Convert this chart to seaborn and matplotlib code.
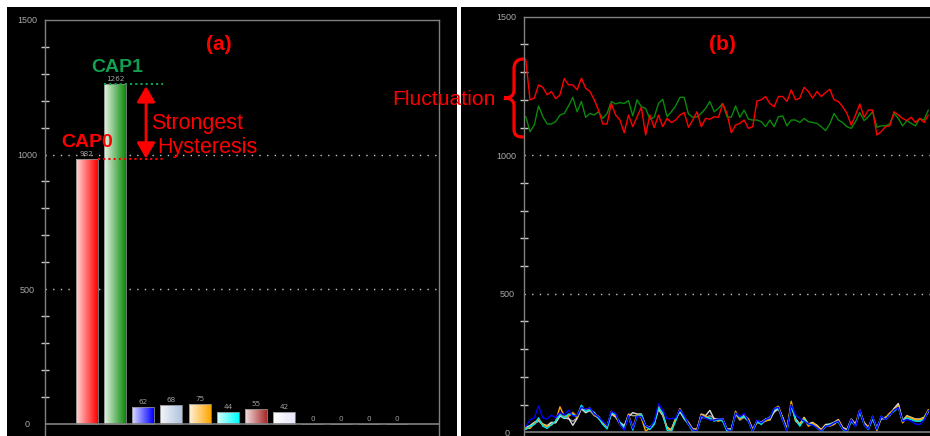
import numpy as np
import pandas as pd
import seaborn as sns
import matplotlib.pyplot as plt
from matplotlib.patches import Rectangle, PathPatch
from matplotlib.path import Path
from matplotlib.ticker import MultipleLocator
from matplotlib.colors import to_rgb

# ---- panel (a): per-channel counts
bar_names = ["CAP0", "CAP1", "CAP2", "CAP3", "CAP4", "CAP5",
             "CAP6", "CAP7", "CAP8", "CAP9", "CAP10", "CAP11"]
bar_values = [982, 1262, 62, 68, 75, 44, 55, 42, 0, 0, 0, 0]
bar_light = ["#ffd6d6", "#e6f3e6", "#dcdcff", "#f4f6fa", "#fff1dc", "#d8ffff",
             "#f5dede", "#ffffff", "#ffffff", "#ffffff", "#ffffff", "#ffffff"]
bar_dark = ["#ff0000", "#0a8a0a", "#0000ff", "#b0c4de", "#ffa500", "#00ffff",
            "#a52a2a", "#e6e6fa", "#c0c0c0", "#c0c0c0", "#c0c0c0", "#c0c0c0"]

# ---- panel (b): samples over time
cap0 = [1347, 1200, 1206, 1254, 1245, 1218, 1230, 1204, 1218, 1277,
        1254, 1254, 1236, 1278, 1242, 1230, 1200, 1163, 1113, 1113,
        1187, 1145, 1127, 1081, 1145, 1103, 1139, 1173, 1073, 1145,
        1100, 1145, 1103, 1133, 1118, 1127, 1145, 1154, 1101, 1127,
        1157, 1103, 1133, 1130, 1139, 1137, 1185, 1151, 1081, 1109,
        1115, 1127, 1097, 1103, 1196, 1200, 1212, 1187, 1175, 1212,
        1212, 1194, 1236, 1200, 1206, 1245, 1230, 1206, 1230, 1212,
        1226, 1238, 1200, 1194, 1175, 1151, 1109, 1145, 1185, 1137,
        1163, 1163, 1073, 1085, 1103, 1106, 1157, 1145, 1133, 1125,
        1137, 1118, 1133, 1118, 1145]
cap1 = [1140, 1085, 1109, 1178, 1139, 1113, 1113, 1121, 1145, 1151,
        1178, 1209, 1157, 1194, 1137, 1151, 1145, 1157, 1133, 1151,
        1194, 1185, 1190, 1187, 1197, 1142, 1200, 1175, 1169, 1130,
        1137, 1187, 1202, 1139, 1157, 1178, 1209, 1209, 1149, 1137,
        1139, 1151, 1169, 1194, 1157, 1169, 1187, 1139, 1137, 1178,
        1137, 1163, 1130, 1127, 1127, 1121, 1103, 1127, 1103, 1139,
        1142, 1106, 1127, 1127, 1118, 1133, 1121, 1118, 1115, 1103,
        1089, 1113, 1151, 1127, 1118, 1103, 1097, 1121, 1154, 1125,
        1139, 1157, 1101, 1106, 1106, 1113, 1151, 1133, 1106, 1125,
        1115, 1106, 1133, 1127, 1163]
cap2 = [20, 45, 52, 95, 52, 48, 62, 52, 72, 62,
        80, 58, 60, 90, 84, 88, 66, 56, 40, 24,
        76, 68, 28, 8, 60, 14, 58, 56, 24, 16,
        40, 103, 80, 49, 49, 52, 82, 60, 30, 8,
        6, 60, 50, 44, 44, 48, 48, 10, 4, 70,
        56, 68, 40, 4, 44, 34, 46, 52, 86, 90,
        46, 4, 100, 62, 50, 40, 30, 26, 16, 4,
        22, 24, 34, 40, 12, 4, 46, 20, 82, 28,
        12, 58, 12, 58, 46, 62, 80, 90, 40, 46,
        40, 30, 28, 44, 78]
cap3 = [18, 24, 36, 44, 30, 24, 36, 34, 60, 50,
        52, 25, 50, 88, 72, 80, 72, 50, 36, 24,
        68, 56, 36, 24, 56, 71, 66, 66, 24, 18,
        36, 86, 62, 18, 10, 48, 74, 50, 36, 12,
        12, 66, 60, 79, 48, 48, 48, 12, 12, 68,
        54, 56, 48, 10, 42, 36, 48, 44, 74, 86,
        54, 12, 98, 48, 30, 54, 30, 36, 24, 10,
        28, 30, 36, 46, 18, 10, 48, 30, 74, 36,
        18, 50, 18, 50, 54, 62, 86, 104, 42, 60,
        54, 48, 48, 54, 74]
cap4 = [16, 14, 34, 46, 28, 22, 26, 40, 92, 58,
        58, 70, 52, 90, 82, 88, 64, 58, 34, 22,
        76, 58, 28, 10, 64, 16, 64, 52, 4, 16,
        34, 94, 64, 16, 8, 46, 85, 58, 34, 10,
        10, 64, 58, 46, 46, 40, 46, 10, 4, 76,
        46, 64, 46, 8, 34, 34, 40, 46, 85, 94,
        52, 10, 112, 40, 28, 52, 22, 34, 22, 8,
        25, 22, 28, 44, 16, 2, 46, 28, 82, 34,
        16, 58, 6, 52, 52, 70, 82, 96, 34, 58,
        52, 46, 46, 52, 82]
cap5 = [10, 22, 28, 52, 22, 14, 28, 40, 64, 52,
        66, 64, 58, 98, 75, 82, 70, 52, 28, 12,
        70, 64, 34, 14, 58, 8, 58, 64, 22, 10,
        28, 88, 70, 8, 2, 40, 82, 52, 28, 4,
        4, 58, 52, 52, 40, 46, 40, 4, 10, 70,
        52, 58, 40, 2, 40, 28, 46, 52, 82, 88,
        46, 4, 98, 46, 22, 46, 28, 28, 16, 2,
        20, 28, 34, 38, 10, 2, 40, 22, 76, 28,
        10, 52, 10, 58, 46, 64, 76, 90, 40, 52,
        46, 40, 40, 46, 76]
cap6 = [14, 20, 32, 50, 26, 20, 32, 38, 68, 56,
        62, 72, 60, 92, 80, 84, 66, 56, 32, 20,
        72, 62, 32, 20, 62, 14, 60, 62, 20, 14,
        32, 90, 66, 14, 6, 44, 84, 56, 32, 8,
        8, 60, 56, 50, 44, 44, 44, 8, 8, 72,
        50, 60, 44, 6, 38, 32, 44, 50, 80, 92,
        50, 8, 102, 44, 26, 50, 26, 32, 20, 6,
        23, 26, 32, 42, 14, 6, 44, 26, 80, 32,
        14, 56, 14, 56, 50, 68, 80, 94, 38, 56,
        50, 44, 44, 50, 80]
cap7 = [12, 16, 30, 40, 26, 20, 34, 36, 58, 52,
        48, 40, 52, 84, 70, 78, 60, 52, 30, 20,
        66, 54, 32, 20, 66, 60, 60, 58, 20, 14,
        30, 82, 60, 14, 6, 50, 76, 48, 30, 8,
        8, 54, 52, 60, 50, 44, 50, 8, 8, 66,
        44, 54, 40, 6, 40, 32, 44, 56, 72, 84,
        44, 8, 94, 50, 26, 44, 26, 32, 26, 6,
        24, 26, 32, 40, 14, 6, 40, 26, 72, 32,
        14, 48, 14, 48, 48, 60, 84, 98, 36, 50,
        48, 44, 40, 50, 72]

line_series = {"CAP6": cap6, "CAP7": cap7, "CAP3": cap3, "CAP4": cap4,
               "CAP5": cap5, "CAP2": cap2, "CAP1": cap1, "CAP0": cap0}
line_colors = {"CAP0": "#ff0000", "CAP1": "#0a8a0a", "CAP2": "#0000ff",
               "CAP3": "#dcdcdc", "CAP4": "#ffa500", "CAP5": "#00e5e5",
               "CAP6": "#a52a2a", "CAP7": "#9a9a9a"}

W, H = 930, 436
GRAY = "#808080"

sns.set_style("ticks", {"axes.facecolor": "black", "axes.edgecolor": GRAY})
plt.rcParams['font.family'] = ['Liberation Sans', 'DejaVu Sans']

fig = plt.figure(figsize=(9.3, 4.36), dpi=100, facecolor="white")


def px(x, y):
    return x / W, 1 - y / H


# black panel backgrounds
for x0, x1 in [(7, 457), (461, 931)]:
    fig.patches.append(Rectangle((x0 / W, 0), (x1 - x0) / W, 1 - 7 / H,
                                 transform=fig.transFigure, facecolor="black",
                                 edgecolor="none", zorder=-5))

ax1 = fig.add_axes([45 / W, 0, 394 / W, (436 - 20) / H])
ax2 = fig.add_axes([524.3 / W, 0, (931 - 524.3) / W, (436 - 16.7) / H])


def style_axis(ax, ybottom):
    ax.set_facecolor("black")
    ax.set_ylim(ybottom, 1500)
    ax.set_yticks([0, 500, 1000, 1500])
    ax.yaxis.set_minor_locator(MultipleLocator(100))
    ax.tick_params(axis="y", which="major", length=0, pad=12.6,
                   labelsize=6.5, labelcolor="#a8a8a8")
    ax.tick_params(axis="y", which="minor", direction="inout", length=6,
                   width=1, color="#c8c8c8")
    for lab in ax.get_yticklabels():
        lab.set_horizontalalignment("center")
    ax.set_xticks([])
    ax.set_xlabel("")
    ax.set_ylabel("")
    ax.spines["bottom"].set_visible(False)
    for s in ax.spines.values():
        s.set_color(GRAY)
        s.set_linewidth(1)
    ax.axhline(0, color=GRAY, lw=1.2, zorder=5)
    for g in (500, 1000):
        ax.axhline(g, color="#c8c8c8", lw=1, ls=(0, (1, 4.5)), zorder=1)


# ---- (a) bars with horizontal gradient
df_bars = pd.DataFrame({"channel": bar_names, "count": bar_values})
sns.barplot(data=df_bars, x="channel", y="count", hue="channel",
            palette=dict(zip(bar_names, bar_dark)), width=0.78, saturation=1,
            edgecolor="#8a8a8a", linewidth=0.6, legend=False, ax=ax1, zorder=3)

for patch in list(ax1.patches):
    h = patch.get_height()
    if h <= 0:
        continue
    x0, w = patch.get_x(), patch.get_width()
    i = int(round(x0 + w / 2))
    c0, c1 = np.array(to_rgb(bar_light[i])), np.array(to_rgb(bar_dark[i]))
    t = np.linspace(0, 1, 64)[None, :, None]
    grad = c0 + (c1 - c0) * t
    im = ax1.imshow(grad, extent=(x0, x0 + w, 0, h), aspect="auto",
                    zorder=2.5, interpolation="bilinear")
    im.set_clip_path(patch)
    patch.set_facecolor("none")
    patch.set_zorder(3)

for i, v in enumerate(bar_values):
    ax1.annotate(str(v), (i, v), xytext=(0, 3.6), textcoords="offset points",
                 ha="center", va="center", fontsize=5.2, color="#a0a0a0",
                 family="DejaVu Sans", zorder=6)

style_axis(ax1, -45.7)
ax1.set_xlim(-1.482, 12.49)
ax1.spines["right"].set_visible(True)
ax1.spines["top"].set_visible(True)

# hysteresis markers
ax1.plot([0.61, 2.70], [bar_values[1]] * 2, color="#12a050", lw=1.5,
         ls=(0, (1, 1.5)), zorder=6)
ax1.plot([0.39, 2.70], [bar_values[0]] * 2, color="#ff0000", lw=1.5,
         ls=(0, (1, 1.5)), zorder=6)
ax1.annotate("", xy=(2.10, 1254), xytext=(2.10, 985),
             arrowprops=dict(arrowstyle="<|-|>,head_length=0.95,head_width=0.55",
                             color="red", lw=2, shrinkA=0, shrinkB=0,
                             mutation_scale=10), zorder=7)

# ---- (b) time series
df_lines = pd.DataFrame([
    {"sample": k, "value": v, "channel": name}
    for name, vals in line_series.items() for k, v in enumerate(vals)
])
sns.lineplot(data=df_lines, x="sample", y="value", hue="channel",
             hue_order=list(line_series.keys()), palette=line_colors,
             estimator=None, lw=1, legend=False, ax=ax2, zorder=3)

style_axis(ax2, -13.4)
ax2.set_xlim(-0.327, 94.63)
ax2.spines["right"].set_visible(False)
ax2.spines["top"].set_visible(True)

# ---- labels
fig.text(*px(219, 45), "(a)", ha="center", va="center", fontsize=15,
         fontweight="bold", color="red")
fig.text(*px(722, 45), "(b)", ha="center", va="center", fontsize=15,
         fontweight="bold", color="red")
fig.text(*px(117, 72.5), "CAP1", ha="center", va="baseline", fontsize=14,
         fontweight="bold", color="#12a050")
fig.text(*px(87, 147), "CAP0", ha="center", va="baseline", fontsize=14,
         fontweight="bold", color="red")
fig.text(*px(151, 129.5), "Strongest", ha="left", va="baseline",
         fontsize=15.5, color="red")
fig.text(*px(157, 153), "Hysteresis", ha="left", va="baseline",
         fontsize=15.5, color="red")
fig.text(*px(392, 105), "Fluctuation", ha="left", va="baseline",
         fontsize=15.2, color="red", zorder=10)

# curly brace
brace_px = [(524, 59), (516, 59), (514, 63), (514, 70), (514, 90),
            (514, 96), (510, 98), (504, 98), (510, 98), (514, 100), (514, 106),
            (514, 128), (514, 135), (516, 137), (524, 137)]
codes = [Path.MOVETO, Path.CURVE4, Path.CURVE4, Path.CURVE4, Path.LINETO,
         Path.CURVE4, Path.CURVE4, Path.CURVE4, Path.CURVE4, Path.CURVE4,
         Path.CURVE4, Path.LINETO, Path.CURVE4, Path.CURVE4, Path.CURVE4]
brace = Path([px(x, y) for x, y in brace_px], codes)
fig.patches.append(PathPatch(brace, transform=fig.transFigure, facecolor="none",
                             edgecolor="red", lw=2.3, zorder=10))

fig.savefig("out.png", dpi=100, facecolor="white")
